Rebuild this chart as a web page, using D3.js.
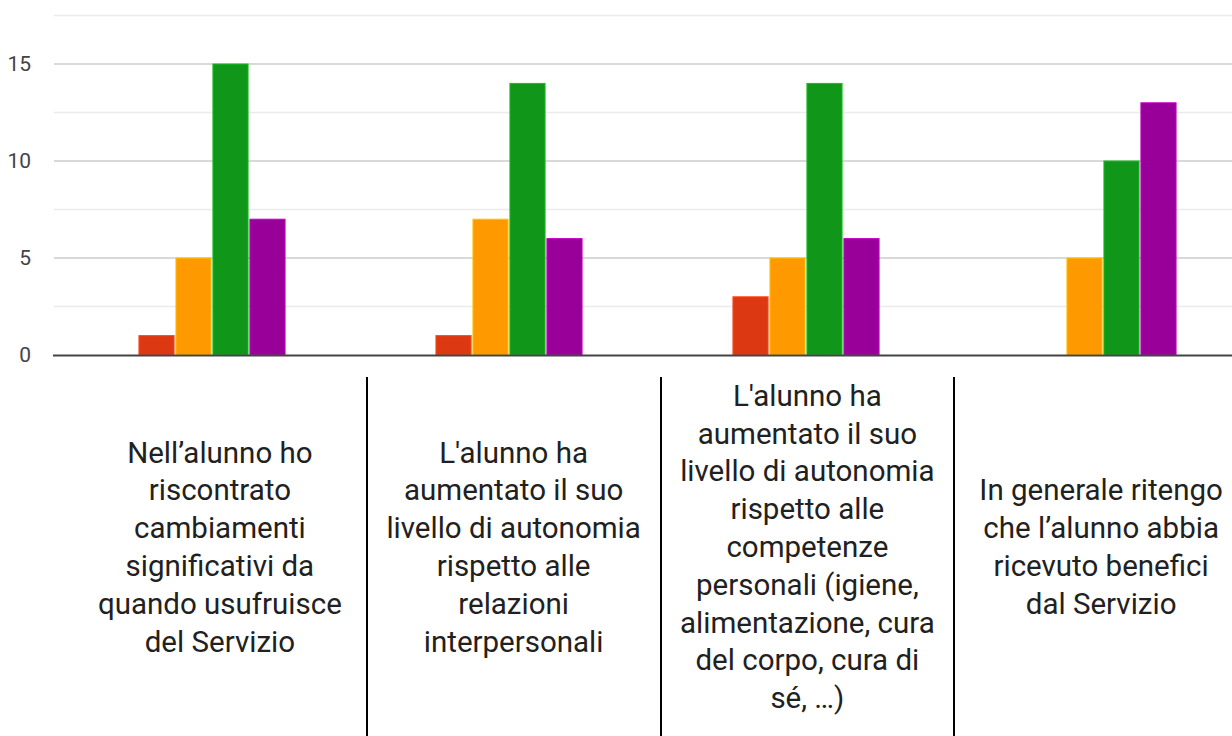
<!DOCTYPE html>
<html>
<head>
<meta charset="utf-8">
<script src="https://cdn.jsdelivr.net/npm/d3@7"></script>
<style>
    html, body { margin: 0; padding: 0; background: #fff; overflow: hidden; }
    svg { display: block; font-family: Roboto, "Noto Sans", sans-serif; }
</style>
</head>
<body>
<div id="chart"></div>
<script>
// categories (one per question), each label already broken into lines
const categories = ["q1", "q2", "q3", "q4"];
const categoryLines = [
    ["Nell\u2019alunno ho", "riscontrato", "cambiamenti", "significativi da", "quando usufruisce", "del Servizio"],
    ["L'alunno ha", "aumentato il suo", "livello di autonomia", "rispetto alle", "relazioni", "interpersonali"],
    ["L'alunno ha", "aumentato il suo", "livello di autonomia", "rispetto alle", "competenze", "personali (igiene,", "alimentazione, cura", "del corpo, cura di", "s\u00e9, \u2026)"],
    ["In generale ritengo", "che l\u2019alunno abbia", "ricevuto benefici", "dal Servizio"]
];

// series (answer levels), values per category
const seriesNames = ["s1", "s2", "s3", "s4"];
const seriesColors = ["#dc3912", "#ff9900", "#109618", "#990099"];
const values = [
    [1, 5, 15, 7],
    [1, 7, 14, 6],
    [3, 5, 14, 6],
    [0, 5, 10, 13]
];

const majorTicks = [0, 5, 10, 15];
const minorTicks = [2.5, 7.5, 12.5, 17.5];

const width = 1232, height = 736;

let svg = d3.select("#chart")
    .append("svg")
    .attr("width", width)
    .attr("height", height);

let y = d3.scaleLinear().domain([0, 17.5]).range([355, 15.5]);

let x = d3.scaleBand()
    .domain(categories)
    .range([63.5, 1251.5])
    .paddingInner(0.508)
    .paddingOuter(0.254);

let xSub = d3.scaleBand()
    .domain(seriesNames)
    .range([0, x.bandwidth()])
    .paddingInner(0.05);

// gridlines
let grid = svg.append("g").attr("class", "grids");
grid.selectAll(".minor")
    .data(minorTicks)
    .join("line")
    .attr("class", "minor")
    .attr("x1", 54).attr("x2", width)
    .attr("y1", d => y(d)).attr("y2", d => y(d))
    .attr("stroke", "#ebebeb")
    .attr("stroke-width", 1.5);
grid.selectAll(".major")
    .data(majorTicks.filter(d => d > 0))
    .join("line")
    .attr("class", "major")
    .attr("x1", 54).attr("x2", width)
    .attr("y1", d => y(d)).attr("y2", d => y(d))
    .attr("stroke", "#cccccc")
    .attr("stroke-width", 1.5);

// y axis labels
let yAxis = svg.append("g")
    .attr("transform", "translate(31,0)")
    .call(d3.axisLeft(y).tickValues(majorTicks).tickSize(0).tickPadding(0));
yAxis.select(".domain").remove();
yAxis.selectAll("text")
    .attr("font-size", 21)
    .attr("font-family", "Roboto, sans-serif")
    .attr("fill", "#444");

// bars
let groups = svg.append("g").attr("class", "bars")
    .selectAll("g")
    .data(categories)
    .join("g")
    .attr("transform", d => `translate(${x(d)},0)`);

groups.selectAll("rect")
    .data((d, i) => values[i].map((v, j) => ({ v: v, s: seriesNames[j], c: seriesColors[j] })).filter(e => e.v > 0))
    .join("rect")
    .attr("x", d => xSub(d.s))
    .attr("width", xSub.bandwidth())
    .attr("y", d => y(d.v))
    .attr("height", d => y(0) - y(d.v))
    .attr("fill", d => d.c)
    .attr("stroke", d => d3.color(d.c).brighter(0.7))
    .attr("stroke-width", 1);

// baseline
svg.append("line")
    .attr("x1", 53).attr("x2", width)
    .attr("y1", y(0) + 0.5).attr("y2", y(0) + 0.5)
    .attr("stroke", "#444")
    .attr("stroke-width", 2);

// category labels in table cells below the chart
let cell = d3.scaleBand()
    .domain(categories)
    .range([73, 1248]);

let labelBox = svg.append("g").attr("class", "labels");

labelBox.selectAll("line")
    .data(categories.slice(1))
    .join("line")
    .attr("x1", d => Math.round(cell(d)))
    .attr("x2", d => Math.round(cell(d)))
    .attr("y1", 377).attr("y2", height)
    .attr("stroke", "#000")
    .attr("stroke-width", 2);

const lineStep = 37.8;
const labelMid = 547;

labelBox.selectAll("text")
    .data(categories)
    .join("text")
    .attr("text-anchor", "middle")
    .attr("font-size", 29.5)
    .attr("fill", "#212121")
    .each(function (d, i) {
        let lines = categoryLines[i];
        let top = labelMid - (lines.length - 1) * lineStep / 2;
        d3.select(this).selectAll("tspan")
            .data(lines)
            .join("tspan")
            .attr("x", cell(d) + cell.bandwidth() / 2)
            .attr("y", (l, k) => top + k * lineStep)
            .attr("dominant-baseline", "central")
            .text(l => l);
    });
</script>
</body>
</html>
